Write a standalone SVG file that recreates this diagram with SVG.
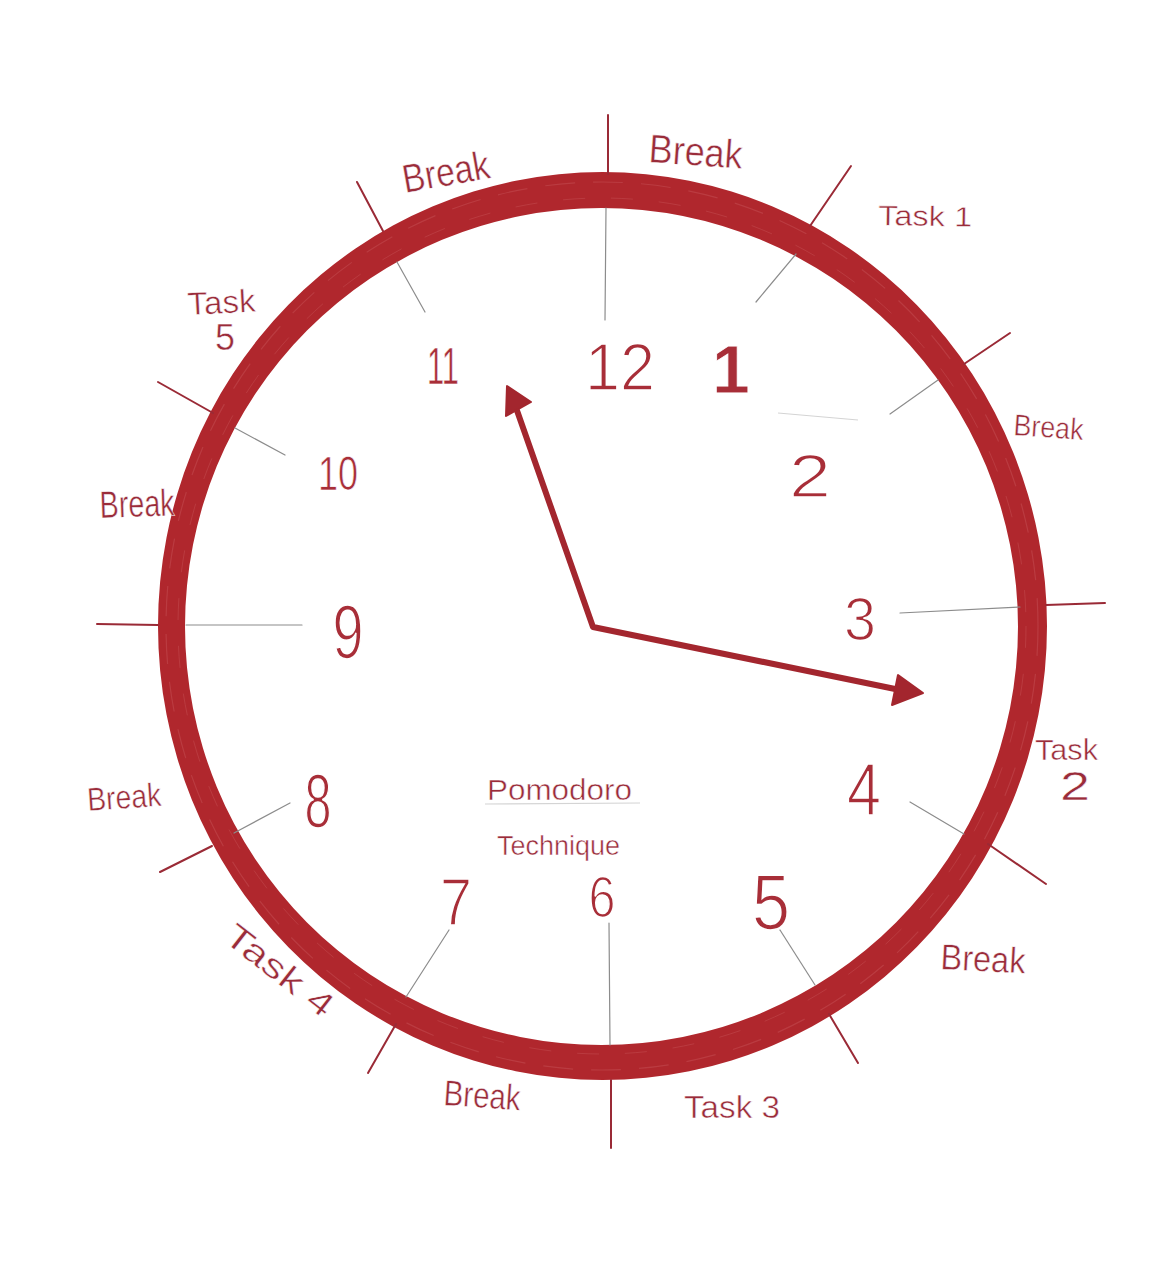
<svg xmlns="http://www.w3.org/2000/svg" width="1170" height="1265" viewBox="0 0 1170 1265">
<style>
.lbl{font-family:"Liberation Sans",Arial,sans-serif;fill:#9a2c3a;stroke:#ffffff;stroke-width:0.5;}
.num{font-family:"Liberation Sans",Arial,sans-serif;fill:#a82e38;text-anchor:middle;stroke:#ffffff;stroke-width:1.6;}
.tout{stroke:#9a2a36;stroke-width:2;stroke-linecap:round;}
.tin{stroke:#8c8c8c;stroke-width:1.2;stroke-linecap:round;}
.faint{stroke:#d4d4d4;stroke-width:1.2;}
.hand{fill:none;stroke:#a3262e;stroke-width:6;stroke-linejoin:round;stroke-linecap:round;}
.head{fill:#a3262e;stroke:#a3262e;stroke-width:2;stroke-linejoin:round;}
</style>
<rect width="1170" height="1265" fill="#ffffff"/>
<g id="ring">
<path fill="#b0272d" fill-rule="evenodd" d="M158,626 A444.5,454 0 1,0 1047,626 A444.5,454 0 1,0 158,626 Z M185,626.5 A416.5,418.5 0 1,0 1018,626.5 A416.5,418.5 0 1,0 185,626.5 Z"/>
<ellipse cx="602" cy="626" rx="436" ry="444" fill="none" stroke="#c24a4e" stroke-width="1.2" stroke-dasharray="30 18" opacity="0.6"/>
<ellipse cx="602" cy="626" rx="424" ry="428" fill="none" stroke="#c44e52" stroke-width="1" stroke-dasharray="22 26" opacity="0.5"/>
</g>
<g id="ticks">
<line class="tout" x1="608" y1="115" x2="608" y2="174"/>
<line class="tin" x1="606" y1="208" x2="605" y2="320"/>
<line class="tout" x1="851" y1="166" x2="810" y2="226"/>
<line class="tin" x1="796" y1="254" x2="756" y2="302"/>
<line class="tout" x1="1010" y1="333" x2="964" y2="364"/>
<line class="tin" x1="938" y1="380" x2="890" y2="414"/>
<line class="tout" x1="1046" y1="605" x2="1105" y2="603"/>
<line class="tin" x1="900" y1="613" x2="1020" y2="607"/>
<line class="tout" x1="988" y1="844" x2="1046" y2="884"/>
<line class="tin" x1="910" y1="802" x2="964" y2="834"/>
<line class="tout" x1="829" y1="1014" x2="858" y2="1063"/>
<line class="tin" x1="780" y1="930" x2="815" y2="985"/>
<line class="tout" x1="611" y1="1080" x2="611" y2="1148"/>
<line class="tin" x1="609" y1="923" x2="610" y2="1045"/>
<line class="tout" x1="396" y1="1024" x2="368" y2="1073"/>
<line class="tin" x1="449" y1="930" x2="406" y2="997"/>
<line class="tout" x1="212" y1="846" x2="160" y2="872"/>
<line class="tin" x1="290" y1="803" x2="234" y2="833"/>
<line class="tout" x1="97" y1="624" x2="158" y2="625"/>
<line class="tin" x1="186" y1="625" x2="302" y2="625"/>
<line class="tout" x1="158" y1="382" x2="213" y2="413"/>
<line class="tin" x1="235" y1="428" x2="285" y2="455"/>
<line class="tout" x1="357" y1="182" x2="383" y2="231"/>
<line class="tin" x1="397" y1="262" x2="425" y2="312"/>
<line class="faint" x1="778" y1="413" x2="858" y2="420"/>
<line class="faint" x1="485" y1="804" x2="640" y2="803"/>
</g>
<g id="numbers">
<text class="num" x="620" y="390" font-size="66" textLength="70" lengthAdjust="spacingAndGlyphs">12</text>
<text class="num" x="731" y="393" font-size="68" font-weight="bold" style="stroke-width:0.8">1</text>
<text class="num" x="810" y="497" font-size="62" textLength="42" lengthAdjust="spacingAndGlyphs">2</text>
<text class="num" x="860" y="640" font-size="62" textLength="32" lengthAdjust="spacingAndGlyphs">3</text>
<text class="num" x="864" y="815" font-size="74" textLength="34" lengthAdjust="spacingAndGlyphs">4</text>
<text class="num" x="771" y="929" font-size="78" textLength="38" lengthAdjust="spacingAndGlyphs">5</text>
<text class="num" x="602" y="917" font-size="58" textLength="27" lengthAdjust="spacingAndGlyphs">6</text>
<text class="num" x="456" y="925" font-size="66" textLength="32" lengthAdjust="spacingAndGlyphs">7</text>
<text class="num" x="318" y="827" font-size="76" textLength="27" lengthAdjust="spacingAndGlyphs">8</text>
<text class="num" x="348" y="658" font-size="76" textLength="31" lengthAdjust="spacingAndGlyphs">9</text>
<text class="num" x="338" y="490" font-size="48" textLength="40" lengthAdjust="spacingAndGlyphs" style="stroke-width:0.7">10</text>
<text class="num" x="443" y="384" font-size="52" textLength="32" lengthAdjust="spacingAndGlyphs" style="stroke-width:0.6">11</text>
</g>
<g id="labels">
<text class="lbl" font-size="40" textLength="94" lengthAdjust="spacingAndGlyphs" transform="translate(648,162) rotate(4)">Break</text>
<text class="lbl" font-size="28" textLength="94" lengthAdjust="spacingAndGlyphs" transform="translate(878,225) rotate(1)">Task 1</text>
<text class="lbl" font-size="30" textLength="70" lengthAdjust="spacingAndGlyphs" transform="translate(1013,435) rotate(4)">Break</text>
<text class="lbl" font-size="30" textLength="63" lengthAdjust="spacingAndGlyphs" x="1035" y="760">Task</text>
<text class="lbl" font-size="40" textLength="30" lengthAdjust="spacingAndGlyphs" x="1060" y="800">2</text>
<text class="lbl" font-size="36" textLength="85" lengthAdjust="spacingAndGlyphs" transform="translate(940,969) rotate(3)">Break</text>
<text class="lbl" font-size="32" textLength="96" lengthAdjust="spacingAndGlyphs" x="684" y="1118">Task 3</text>
<text class="lbl" font-size="36" textLength="77" lengthAdjust="spacingAndGlyphs" transform="translate(443,1105) rotate(4)">Break</text>
<text class="lbl" font-size="34" textLength="128" lengthAdjust="spacingAndGlyphs" transform="translate(222,940) rotate(38)">Task 4</text>
<text class="lbl" font-size="33" textLength="74" lengthAdjust="spacingAndGlyphs" transform="translate(88,811) rotate(-4)">Break</text>
<text class="lbl" font-size="38" textLength="75" lengthAdjust="spacingAndGlyphs" transform="translate(100,518) rotate(-2)">Break</text>
<text class="lbl" font-size="32" textLength="68" lengthAdjust="spacingAndGlyphs" transform="translate(188,315) rotate(-3)">Task</text>
<text class="lbl" font-size="36" textLength="20" lengthAdjust="spacingAndGlyphs" x="215" y="350">5</text>
<text class="lbl" font-size="40" textLength="88" lengthAdjust="spacingAndGlyphs" transform="translate(405,193) rotate(-10)">Break</text>
<text class="lbl" font-size="30" textLength="145" lengthAdjust="spacingAndGlyphs" x="487" y="800">Pomodoro</text>
<text class="lbl" font-size="28" textLength="123" lengthAdjust="spacingAndGlyphs" x="497" y="855">Technique</text>
</g>
<g id="hands">
<polyline class="hand" points="514,402 593,627 900,690"/>
<polygon class="head" points="507,386 506,416 531,402"/>
<polygon class="head" points="923,693 898,675 892,705"/>
</g>
</svg>
